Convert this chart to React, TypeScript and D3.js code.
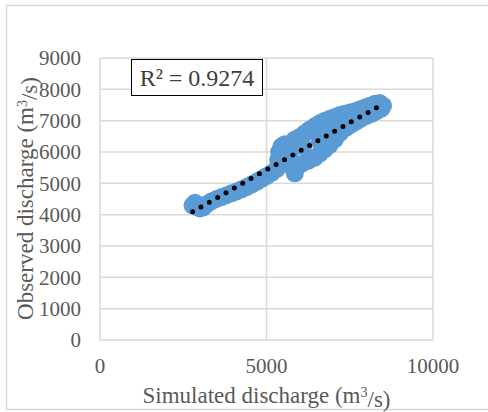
import React, { useEffect, useRef } from 'react';
import * as d3 from 'd3';

// simulated vs observed discharge (m3/s)
const simulated = [
  2780, 2850, 2900, 3000, 3100, 3200,
  3350, 3500, 3650, 3800, 3950, 4100, 4250, 4400, 4550, 4700, 4850, 5000, 5150, 5300,
  5350, 5380, 5450, 5550, 5650, 5750, 5450, 5600, 5700,
  5850, 5900, 6050, 6250, 6450, 6600, 6750, 6900, 7050, 7200,
  5850, 6000, 6150, 6300, 6450, 6600, 6750, 6900, 7050, 7200, 7350, 7500, 7650, 7800, 7950, 8100, 8250, 8400, 8500,
  8450, 8300, 8150, 8000, 7850, 7700, 7550, 7400,
  6650, 6900, 7100, 6100, 6600, 6750,
];
const observed = [
  4300, 4380, 4250, 4200, 4230, 4330,
  4430, 4500, 4560, 4620, 4680, 4740, 4810, 4880, 4960, 5050, 5140, 5230, 5330, 5450,
  5750, 6000, 6180, 6250, 6200, 6280, 5600, 5800, 5950,
  5320, 5500, 5620, 5720, 5820, 5950, 6080, 6230, 6400, 6600,
  6400, 6480, 6600, 6720, 6820, 6920, 7000, 7060, 7120, 7180, 7220, 7260, 7300, 7360, 7420, 7480, 7540, 7560, 7480,
  7380, 7300, 7220, 7150, 7070, 6980, 6880, 6780,
  6500, 6700, 6850, 6180, 6330, 6350,
];

// linear trendline shown in the chart
const trendSlope = 0.601;
const trendIntercept = 2426;
const rSquared = '0.9274';

const xTicks = [0, 5000, 10000];
const yTicks = [0, 1000, 2000, 3000, 4000, 5000, 6000, 7000, 8000, 9000];

const App = () => {
  const svgRef = useRef(null);

  useEffect(() => {
    const svg = d3.select(svgRef.current);
    svg.selectAll('*').remove();

    const width = 488;
    const height = 412;
    const margin = { top: 58, right: 55, bottom: 72, left: 100 };
    const chartWidth = width - margin.left - margin.right;
    const chartHeight = height - margin.top - margin.bottom;
    const font = '"Liberation Serif", "Times New Roman", serif';
    const textColor = '#595959';
    const gridColor = '#d9d9d9';

    svg.attr('width', width).attr('height', height);

    // outer chart border
    svg.append('rect')
      .attr('x', 6.5)
      .attr('y', 5.5)
      .attr('width', 500)
      .attr('height', 404)
      .attr('fill', 'white')
      .attr('stroke', gridColor)
      .attr('stroke-width', 1.5);

    const g = svg.append('g')
      .attr('transform', `translate(${margin.left},${margin.top})`);

    const x = d3.scaleLinear().domain([0, 10000]).range([0, chartWidth]);
    const y = d3.scaleLinear().domain([0, 9000]).range([chartHeight, 0]);

    // gridlines
    g.selectAll('.hgrid')
      .data(yTicks)
      .enter()
      .append('line')
      .attr('x1', 0)
      .attr('x2', chartWidth)
      .attr('y1', d => y(d))
      .attr('y2', d => y(d))
      .attr('stroke', gridColor)
      .attr('stroke-width', 1.5);

    g.selectAll('.vgrid')
      .data(xTicks)
      .enter()
      .append('line')
      .attr('x1', d => x(d))
      .attr('x2', d => x(d))
      .attr('y1', 0)
      .attr('y2', chartHeight)
      .attr('stroke', gridColor)
      .attr('stroke-width', 1.5);

    // tick labels
    g.selectAll('.ylab')
      .data(yTicks)
      .enter()
      .append('text')
      .attr('x', -19)
      .attr('y', d => y(d))
      .attr('dy', '0.35em')
      .attr('text-anchor', 'end')
      .style('font-family', font)
      .style('font-size', '21px')
      .style('fill', textColor)
      .text(d => d);

    g.selectAll('.xlab')
      .data(xTicks)
      .enter()
      .append('text')
      .attr('x', d => x(d))
      .attr('y', chartHeight + 33)
      .attr('text-anchor', 'middle')
      .style('font-family', font)
      .style('font-size', '21px')
      .style('fill', textColor)
      .text(d => d);

    // points
    const points = simulated.map((s, i) => ({ s, o: observed[i] }));
    g.selectAll('.pt')
      .data(points)
      .enter()
      .append('circle')
      .attr('cx', d => x(d.s))
      .attr('cy', d => y(d.o))
      .attr('r', 9)
      .attr('fill', '#5b9bd5');

    // dotted trendline
    const [xMin, xMax] = d3.extent(simulated);
    const line = d3.line().x(d => x(d[0])).y(d => y(d[1]));
    g.append('path')
      .attr('d', line([
        [xMin, trendSlope * xMin + trendIntercept],
        [xMax, trendSlope * xMax + trendIntercept],
      ]))
      .attr('fill', 'none')
      .attr('stroke', 'black')
      .attr('stroke-width', 5)
      .attr('stroke-linecap', 'round')
      .attr('stroke-dasharray', '0 9.6');

    // R² box
    g.append('rect')
      .attr('x', 31.5)
      .attr('y', 1.5)
      .attr('width', 131)
      .attr('height', 36)
      .attr('fill', 'white')
      .attr('stroke', 'black')
      .attr('stroke-width', 1);

    g.append('text')
      .attr('x', 97)
      .attr('y', 28)
      .attr('text-anchor', 'middle')
      .style('font-family', font)
      .style('font-size', '24px')
      .style('fill', '#404040')
      .text(`R² = ${rSquared}`);

    // axis titles
    const xTitle = svg.append('text')
      .attr('x', margin.left + chartWidth / 2)
      .attr('y', 403)
      .attr('text-anchor', 'middle')
      .style('font-family', font)
      .style('font-size', '23px')
      .style('fill', textColor);
    xTitle.append('tspan').text('Simulated discharge (m');
    xTitle.append('tspan').attr('dy', '-0.4em').style('font-size', '14px').text('3');
    xTitle.append('tspan').attr('dy', '0.4em').text('/s)');

    const yTitle = svg.append('text')
      .attr('transform', `translate(33,${margin.top + chartHeight / 2 - 0.5}) rotate(-90)`)
      .attr('text-anchor', 'middle')
      .style('font-family', font)
      .style('font-size', '23px')
      .style('fill', textColor);
    yTitle.append('tspan').text('Observed discharge (m');
    yTitle.append('tspan').attr('dy', '-0.4em').style('font-size', '14px').text('3');
    yTitle.append('tspan').attr('dy', '0.4em').text('/s)');
  }, []);

  return (
    <svg ref={svgRef} style={{ position: 'absolute', left: 0, top: 0 }}></svg>
  );
};

export default App;
